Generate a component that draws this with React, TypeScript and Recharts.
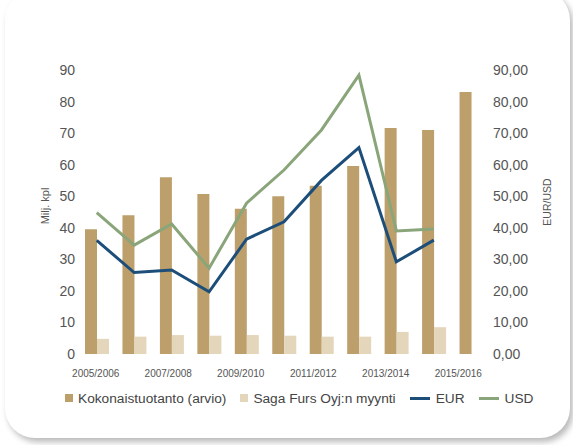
import React from 'react';
import { ComposedChart, Bar, Line, XAxis, YAxis } from 'recharts';

const seasons = [
  '2005/2006', '2006/2007', '2007/2008', '2008/2009', '2009/2010', '2010/2011',
  '2011/2012', '2012/2013', '2013/2014', '2014/2015', '2015/2016',
];
const totalProduction = [39.5, 44, 56, 50.7, 46, 50, 53.3, 59.6, 71.6, 71, 83];
const sagaSales = [4.8, 5.5, 6, 5.8, 6, 5.8, 5.5, 5.5, 7, 8.5, null];
const eurPrice = [36, 25.8, 26.6, 19.7, 36.4, 41.9, 55, 65.4, 29.2, 36.1, null];
const usdPrice = [44.8, 34.5, 41.2, 27.2, 47.8, 58.3, 71, 88.4, 39, 39.6, null];
const axisTicks = [0, 10, 20, 30, 40, 50, 60, 70, 80, 90];

const data = seasons.map((season, i) => ({
  season,
  total: totalProduction[i],
  saga: sagaSales[i],
  eur: eurPrice[i],
  usd: usdPrice[i],
}));

const FONT = '"Liberation Sans", Arial, sans-serif';
const COLORS = { total: '#bd9f6b', saga: '#e4d6bb', eur: '#1d4e7a', usd: '#8ba57a' };

const legendItems = [
  { label: 'Kokonaistuotanto (arvio)', color: COLORS.total, kind: 'square' },
  { label: 'Saga Furs Oyj:n myynti', color: COLORS.saga, kind: 'square' },
  { label: 'EUR', color: COLORS.eur, kind: 'line' },
  { label: 'USD', color: COLORS.usd, kind: 'line' },
];

const LeftTitle = ({ viewBox }: any) => {
  const x = viewBox.x + 45;
  const y = viewBox.y + viewBox.height / 2 - 6;
  return (
    <text x={x} y={y} transform={`rotate(-90 ${x} ${y})`} textAnchor="middle" dominantBaseline="central"
      fontSize={11} fill="#555" fontFamily={FONT}>Milj. kpl</text>
  );
};

const RightTitle = ({ viewBox }: any) => {
  const x = viewBox.x + 57;
  const y = viewBox.y + viewBox.height / 2 - 10;
  return (
    <text x={x} y={y} transform={`rotate(-90 ${x} ${y})`} textAnchor="middle" dominantBaseline="central"
      fontSize={10.5} fill="#555" fontFamily={FONT}>EUR/USD</text>
  );
};

// labels in the original sit a little left of the group centres, more so to the right
const SeasonTick = ({ x, y, payload, index }: any) => (
  <text x={x - 1 - index * 2.4} y={y} dy="0.71em" textAnchor="middle" fontSize={10} fill="#555" fontFamily={FONT}>
    {payload.value}
  </text>
);

export default function App() {
  return (
    <div style={{ position: 'fixed', left: 0, top: 0, width: 573, height: 445, overflow: 'hidden', background: '#fff', fontFamily: FONT }}>
      <div style={{
        position: 'absolute', left: 5, top: -10, width: 565, height: 448, background: '#fff',
        borderRadius: 30, boxShadow: '3px 4px 6px rgba(0,0,0,0.28)',
      }} />
      <div style={{ position: 'absolute', left: 0, top: 0 }}>
        <ComposedChart width={573} height={445} data={data} barGap={0} barSize={12}
          margin={{ top: 70, right: 0, bottom: 61, left: 0 }}>
          <XAxis dataKey="season" interval={1} axisLine={false} tickLine={false} tickSize={0} tickMargin={16}
            tick={<SeasonTick />} height={30} />
          <YAxis yAxisId="left" domain={[0, 90]} ticks={axisTicks} width={78} axisLine={false} tickLine={false}
            tickSize={3} tickMargin={0} tick={{ fontSize: 14, fill: '#555', fontFamily: FONT }}
            label={<LeftTitle />} />
          <YAxis yAxisId="right" orientation="right" domain={[0, 90]} ticks={axisTicks} width={83}
            axisLine={false} tickLine={false} tickSize={3} tickMargin={0}
            tickFormatter={(v: number) => v.toFixed(2).replace('.', ',')}
            tick={{ fontSize: 14, fill: '#555', fontFamily: FONT }} label={<RightTitle />} />
          <Bar yAxisId="left" dataKey="total" fill={COLORS.total} isAnimationActive={false} />
          <Bar yAxisId="left" dataKey="saga" fill={COLORS.saga} isAnimationActive={false} />
          <Line yAxisId="right" dataKey="eur" stroke={COLORS.eur} strokeWidth={3} dot={false}
            activeDot={false} isAnimationActive={false} />
          <Line yAxisId="right" dataKey="usd" stroke={COLORS.usd} strokeWidth={3} dot={false}
            activeDot={false} isAnimationActive={false} />
        </ComposedChart>
      </div>
      <div style={{ position: 'absolute', left: 65, top: 389, display: 'flex', alignItems: 'center', fontSize: 13.7, color: '#444', height: 18 }}>
        {legendItems.map((item) => (
          <div key={item.label} style={{ display: 'flex', alignItems: 'center', marginRight: 14 }}>
            {item.kind === 'square'
              ? <span style={{ width: 8, height: 8, background: item.color, marginRight: 5 }} />
              : <span style={{ width: 20, height: 3, background: item.color, marginRight: 6 }} />}
            <span style={{ whiteSpace: 'nowrap' }}>{item.label}</span>
          </div>
        ))}
      </div>
    </div>
  );
}
